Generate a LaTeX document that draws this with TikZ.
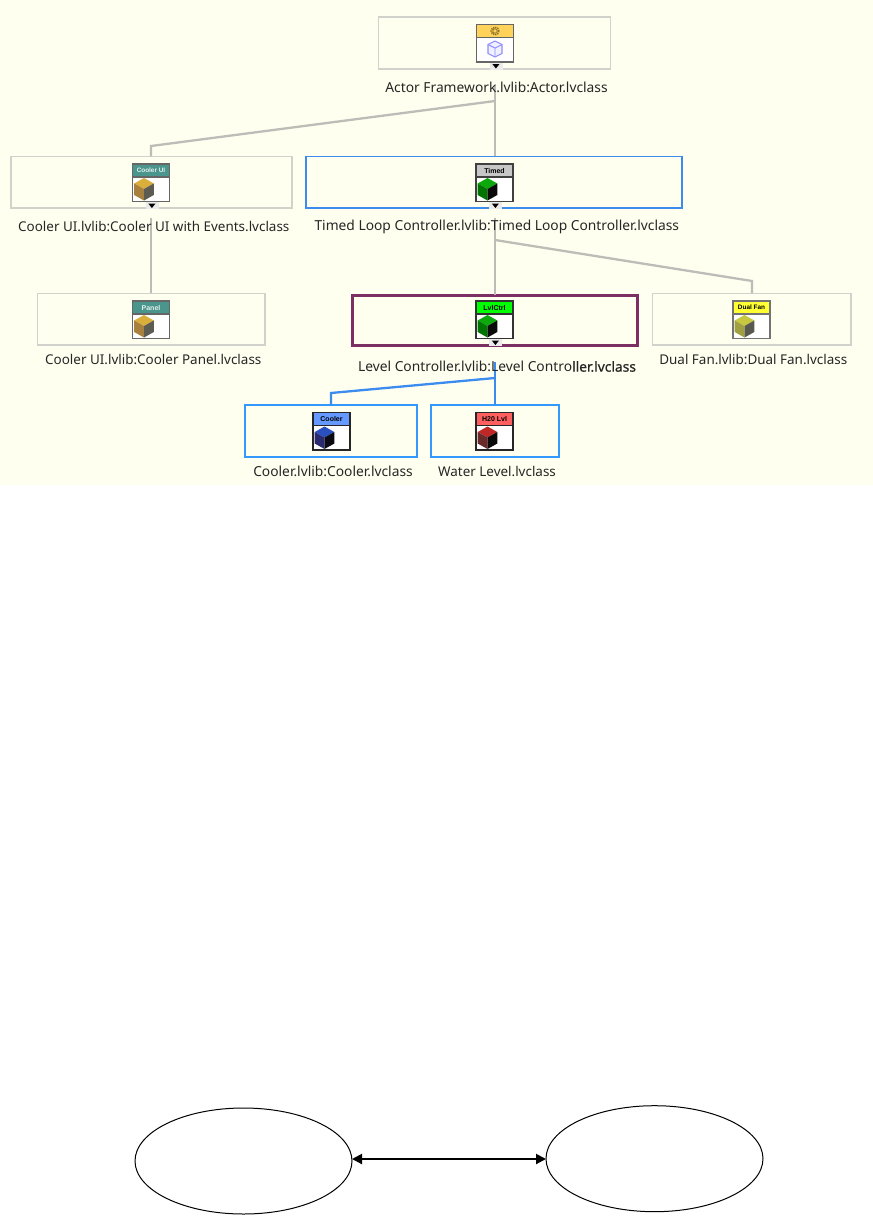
\documentclass[tikz,border=0pt]{standalone}
\usepackage{fontspec}
\setmainfont{Noto Sans}
\newfontfamily\hdrfont{Liberation Sans}
\newfontfamily\fakebold[FakeBold=0.6]{Noto Sans}
\usetikzlibrary{arrows.meta,shapes.geometric}
\definecolor{bgcream}{HTML}{FFFFF0}
\definecolor{boxgrey}{HTML}{D2D2CC}
\definecolor{linegrey}{HTML}{BDBDB8}
\definecolor{selblue}{HTML}{3C8CF0}
\definecolor{lowblue}{HTML}{3399FF}
\definecolor{selpurple}{HTML}{7C2F62}
\definecolor{gold}{HTML}{D9AE3A}\definecolor{goldl}{HTML}{A8813E}\definecolor{goldr}{HTML}{5C5C52}
\definecolor{hdrgold}{HTML}{FFD25A}
\definecolor{hdrblue}{HTML}{6699FF}
\definecolor{hdryellow}{HTML}{FFFF33}
\definecolor{hdrred}{HTML}{FF5F5F}
\definecolor{grn}{HTML}{0CA80C}\definecolor{grnl}{HTML}{007400}\definecolor{grnr}{HTML}{0A0A0A}
\definecolor{blu}{HTML}{2A50C0}\definecolor{blul}{HTML}{2A2A70}\definecolor{blur}{HTML}{0A0A12}
\definecolor{rd}{HTML}{C02828}\definecolor{rdl}{HTML}{6A2A2A}\definecolor{rdr}{HTML}{0A0A0A}
\definecolor{yl}{HTML}{C8C840}\definecolor{yll}{HTML}{A0A040}\definecolor{ylr}{HTML}{58584E}
\definecolor{teal}{HTML}{4A968C}
\tikzset{
  x=1pt,y=-1pt,
  classbox/.style={draw=boxgrey,line width=1.1pt,inner sep=0pt,outer sep=0pt},
  activebox/.style={draw=selblue,line width=1.3pt,inner sep=0pt,outer sep=0pt},
  lowbox/.style={draw=lowblue,line width=1.7pt,inner sep=0pt,outer sep=0pt},
  selbox/.style={classbox,draw=selpurple,line width=3pt},
  classlabel/.style={inner sep=0pt,text=black!85,font=\fontsize{13.8}{16}\selectfont},
  shortlabel/.style={inner sep=0pt,text=black!85,font=\fontsize{13.45}{16}\selectfont},
  conn/.style={draw=linegrey,line width=2.3pt},
  connblue/.style={draw=selblue,line width=2.3pt},
  frame/.style={inner sep=0pt,outer sep=0pt,anchor=north west,minimum width=37pt,minimum height=37.5pt,fill=white,line width=1.1pt},
  hdr/.style={inner sep=0pt,outer sep=0pt,anchor=north west,minimum width=37pt,minimum height=13pt,line width=1.1pt,font=\hdrfont\bfseries\fontsize{7}{7}\selectfont},
  bubble/.style={ellipse,draw=black,line width=1pt,inner sep=0pt,outer sep=0pt,minimum width=217pt,minimum height=106pt},
  biarrow/.style={draw=black,line width=2pt,{Triangle[length=10pt,width=10pt]}-{Triangle[length=10pt,width=10pt]}},
}
% name, x0, y0, header colour, label, label colour, frame colour
\newcommand{\iconframe}[7]{%
  \node[frame,draw=#7] (#1) at (#2,#3) {};
  \node[hdr,draw=#7,fill=#4,text=#6] (#1h) at (#2,#3) {#5};
}
% x0, y0, top, left, right
\newcommand{\iconcube}[5]{%
  \begin{scope}[shift={(#1,#2)}]
    \fill[#3] (11.5,14) -- (21.3,19.5) -- (11.5,25) -- (1.7,19.5) -- cycle;
    \fill[#4] (1.7,19.5) -- (11.5,25) -- (11.5,36.5) -- (1.7,31) -- cycle;
    \fill[#5] (21.3,19.5) -- (11.5,25) -- (11.5,36.5) -- (21.3,31) -- cycle;
  \end{scope}
}
\newcommand{\icontab}[2]{%
  \begin{scope}[shift={(#1,#2)}]
    \fill[black!8] (13,38) rectangle (26,45);
    \fill[black] (15.8,39.5) -- (23,39.5) -- (19.4,44) -- cycle;
  \end{scope}
}
\begin{document}
\begin{tikzpicture}
\useasboundingbox (0,0) rectangle (873,1216);
\fill[bgcream] (0,0) rectangle (873,485);

% boxes
\node[lowbox,minimum width=172pt,minimum height=52pt] (cool) at (331,431) {};
\node[lowbox,minimum width=128pt,minimum height=52pt] (water) at (495,431) {};
\node[classbox,minimum width=232pt,minimum height=52pt] (actor) at (494.5,43) {};
\node[classbox,minimum width=281pt,minimum height=51.5pt] (ui) at (151.5,182.2) {};
\node[activebox,minimum width=376pt,minimum height=51.5pt] (timed) at (494,182.2) {};
\node[classbox,minimum width=227.5pt,minimum height=51.5pt] (panel) at (151.2,319.2) {};
\node[selbox,minimum width=285pt,minimum height=50pt] (lvl) at (494.5,320) {};
\node[classbox,minimum width=198.5pt,minimum height=51.5pt] (fan) at (751.7,319.2) {};

% connector joints
\coordinate (a0) at (495,85);
\coordinate (a1) at (495,101);
\coordinate (a2) at (151,146);
\coordinate (u0) at (151,218);
\coordinate (t0) at (495,218);
\coordinate (t1) at (495,240);
\coordinate (t2) at (752,281);
\coordinate (l0) at (495,362);
\coordinate (l1) at (495,378);
\coordinate (l2) at (331,393);

\draw[conn] (a0) -- (a0 |- timed.north);
\draw[conn] (a1) -- (a2) -- (a2 |- ui.north);
\draw[conn] (u0) -- (u0 |- panel.north);
\draw[conn] (t0) -- (t0 |- lvl.north);
\draw[conn] (t1) -- (t2) -- (t2 |- fan.north);
\draw[connblue] (l0) -- (l0 |- water.north);
\draw[connblue] (l1) -- (l2) -- (l2 |- cool.north);

% labels
\node[classlabel] (actorl) at (496.5,87) {Actor Framework.lvlib:Actor.lvclass};
\node[shortlabel] (uil) at (153.8,226.5) {Cooler UI.lvlib:Cooler UI with Events.lvclass};
\node[classlabel] (timedl) at (496.8,226.5) {Timed Loop Controller.lvlib:Timed Loop Controller.lvclass};
\node[shortlabel] (panell) at (153.3,359.5) {Cooler UI.lvlib:Cooler Panel.lvclass};
\node[classlabel] (lvll) at (497,366.5) {Level Controller.lvlib:Level Contro{\fakebold ller.lvclass}};
\node[shortlabel] (fanl) at (753.3,359.5) {Dual Fan.lvlib:Dual Fan.lvclass};
\node[classlabel] (cooll) at (333,471.5) {Cooler.lvlib:Cooler.lvclass};
\node[shortlabel] (waterl) at (497,471.5) {Water Level.lvclass};

% actor icon
\iconframe{iactor}{476.5}{24.5}{hdrgold}{}{black}{black!60}
\begin{scope}[shift={(495,31)}]
  \draw[black!35!gold,line width=1.6pt,dash pattern=on 1.3pt off 0.9pt] (0,0) circle (3.8);
  \draw[black!30!gold,line width=0.8pt] (0,0) circle (2.2);
\end{scope}
\begin{scope}[shift={(495,49)}]
  \draw[blue!45!white,line width=1.1pt,fill=blue!6,line join=round]
    (0,-8) -- (7,-4.5) -- (7,4.5) -- (0,8) -- (-7,4.5) -- (-7,-4.5) -- cycle;
  \draw[blue!45!white,line width=0.9pt] (-7,-4.5) -- (0,-1) -- (7,-4.5) (0,-1) -- (0,8);
\end{scope}
\icontab{476.5}{24.5}

\iconframe{iui}{132.5}{164}{teal}{\textcolor{white!85!teal}{\fontsize{6.4}{7}\selectfont Cooler UI}}{white}{black!60}
\iconcube{132.5}{164}{gold}{goldl}{goldr}
\icontab{132.5}{164}

\iconframe{itimed}{476}{164}{black!22}{Timed}{black}{black!75}
\iconcube{476}{164}{grn}{grnl}{grnr}
\icontab{476}{164}

\iconframe{ipanel}{132.5}{301}{teal}{\textcolor{white!85!teal}{Panel}}{white}{black!60}
\iconcube{132.5}{301}{gold}{goldl}{goldr}

\iconframe{ilvl}{476}{301}{green}{LvlCtrl}{black}{black!80}
\iconcube{476}{301}{grn}{grnl}{grnr}
\icontab{476}{301}

\iconframe{ifan}{733}{301}{hdryellow}{\fontsize{6.4}{7}\selectfont Dual Fan}{black}{black!55}
\iconcube{733}{301}{yl}{yll}{ylr}

\iconframe{icool}{313}{412.5}{hdrblue}{Cooler}{black}{black!85}
\iconcube{313}{412.5}{blu}{blul}{blur}

\iconframe{iwater}{476}{412.5}{hdrred}{H20 Lvl}{black}{black!85}
\iconcube{476}{412.5}{rd}{rdl}{rdr}

% lower ellipses
\node[bubble] (left) at (243.5,1161) {};
\node[bubble] (right) at (654.5,1158.7) {};
\coordinate (ay) at (450,1159);
\draw[biarrow] (left.east |- ay) -- (right.west |- ay);
\end{tikzpicture}
\end{document}
